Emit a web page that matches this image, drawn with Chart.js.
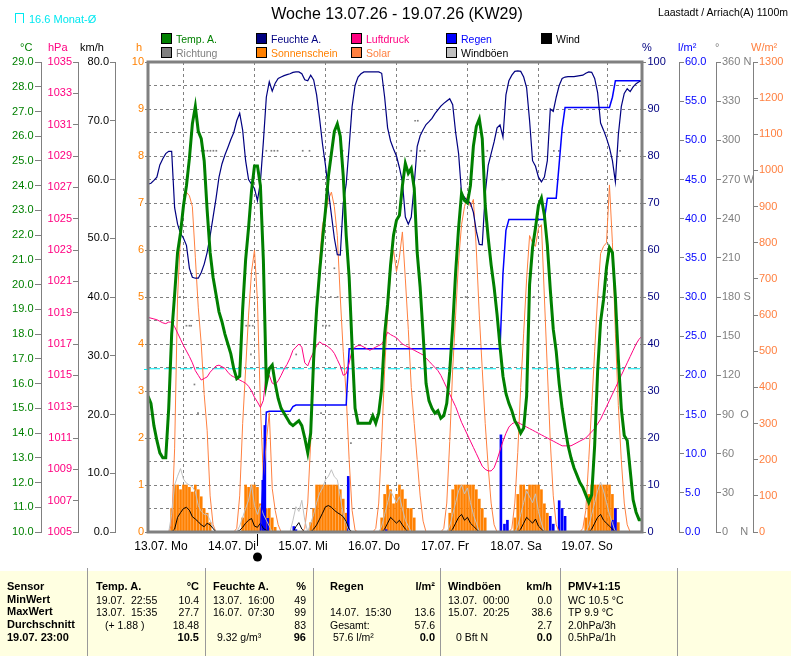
<!DOCTYPE html>
<html><head><meta charset="utf-8">
<script src="https://cdn.jsdelivr.net/npm/chart.js@4.4.1/dist/chart.umd.min.js"></script>
<style>
body{margin:0;width:791px;height:656px;overflow:hidden;background:#fff;font-family:"Liberation Sans",Arial,sans-serif;}
#wrap{position:relative;width:791px;height:656px;}
canvas{position:absolute;left:0;top:0;}
.t{position:absolute;white-space:nowrap;line-height:1;}
.r{transform:translateX(-100%);}
.box{position:absolute;width:9px;height:9px;border:1px solid #000;}
.tb{position:absolute;left:0;top:571px;width:791px;height:85px;background:#FFFFE1;}
.sep{position:absolute;top:568px;width:1px;height:88px;background:#999;}
.s{font-size:10.5px;}
.b{font-size:11px;font-weight:bold;}
</style></head><body>
<div id="wrap">
<div class="tb"></div>
<canvas id="c" width="791" height="656"></canvas>

<div style="position:absolute;left:15px;top:13px;width:7px;height:9px;border:1px solid #00E8F0;border-bottom:none;"></div>
<div class="t" style="left:29px;top:13.5px;font-size:11px;color:#00E8F0;">16.6 Monat-Ø</div>
<div class="t" style="left:397px;top:6px;font-size:16px;transform:translateX(-50%);">Woche 13.07.26 - 19.07.26 (KW29)</div>
<div class="t" style="right:3px;top:7px;font-size:10.5px;">Laastadt / Arriach(A) 1100m</div>

<div class="box" style="left:161px;top:33px;background:#008000"></div><div class="t" style="left:176px;top:33.5px;font-size:10.5px;color:#008000">Temp. A.</div>
<div class="box" style="left:256px;top:33px;background:#000080"></div><div class="t" style="left:271px;top:33.5px;font-size:10.5px;color:#000080">Feuchte A.</div>
<div class="box" style="left:351px;top:33px;background:#FF0080"></div><div class="t" style="left:366px;top:33.5px;font-size:10.5px;color:#FF0080">Luftdruck</div>
<div class="box" style="left:446px;top:33px;background:#0000FF"></div><div class="t" style="left:461px;top:33.5px;font-size:10.5px;color:#0000FF">Regen</div>
<div class="box" style="left:541px;top:33px;background:#000000"></div><div class="t" style="left:556px;top:33.5px;font-size:10.5px;color:#000">Wind</div>
<div class="box" style="left:161px;top:47px;background:#808080"></div><div class="t" style="left:176px;top:47.5px;font-size:10.5px;color:#808080">Richtung</div>
<div class="box" style="left:256px;top:47px;background:#FF8000"></div><div class="t" style="left:271px;top:47.5px;font-size:10.5px;color:#FF8000">Sonnenschein</div>
<div class="box" style="left:351px;top:47px;background:#FF8040"></div><div class="t" style="left:366px;top:47.5px;font-size:10.5px;color:#FF8040">Solar</div>
<div class="box" style="left:446px;top:47px;background:#C0C0C0"></div><div class="t" style="left:461px;top:47.5px;font-size:10.5px;color:#000">Windböen</div>

<div class="t" style="left:20px;top:41.5px;font-size:11px;color:#008000">°C</div>
<div class="t" style="left:48px;top:41.5px;font-size:11px;color:#FF0080">hPa</div>
<div class="t" style="left:80px;top:41.5px;font-size:11px;color:#000">km/h</div>
<div class="t" style="left:136px;top:41.5px;font-size:11px;color:#FF8000">h</div>
<div class="t" style="left:642px;top:41.5px;font-size:11px;color:#000080">%</div>
<div class="t" style="left:678px;top:41.5px;font-size:11px;color:#0000FF">l/m²</div>
<div class="t" style="left:715px;top:41.5px;font-size:11px;color:#808080">°</div>
<div class="t" style="left:751px;top:41.5px;font-size:11px;color:#FF8040">W/m²</div>

<div class="sep" style="left:87px"></div><div class="sep" style="left:205px"></div><div class="sep" style="left:313px"></div>
<div class="sep" style="left:440px"></div><div class="sep" style="left:560px"></div><div class="sep" style="left:677px"></div>

<div class="t b" style="left:7px;top:580.7px">Sensor</div>
<div class="t b" style="left:7px;top:594px">MinWert</div>
<div class="t b" style="left:7px;top:606.4px">MaxWert</div>
<div class="t b" style="left:7px;top:619px">Durchschnitt</div>
<div class="t b" style="left:7px;top:631.7px">19.07. 23:00</div>

<div class="t b" style="left:96px;top:580.7px">Temp. A.</div>
<div class="t b r" style="left:199px;top:580.7px">°C</div>
<div class="t s" style="left:96px;top:594.5px">19.07.&nbsp; 22:55</div><div class="t s r" style="left:199px;top:594.5px">10.4</div>
<div class="t s" style="left:96px;top:607px">13.07.&nbsp; 15:35</div><div class="t s r" style="left:199px;top:607px">27.7</div>
<div class="t s" style="left:105px;top:619.5px">(+ 1.88 )</div><div class="t s r" style="left:199px;top:619.5px">18.48</div>
<div class="t b r" style="left:199px;top:631.7px">10.5</div>

<div class="t b" style="left:213px;top:580.7px">Feuchte A.</div>
<div class="t b r" style="left:306px;top:580.7px">%</div>
<div class="t s" style="left:213px;top:594.5px">13.07.&nbsp; 16:00</div><div class="t s r" style="left:306px;top:594.5px">49</div>
<div class="t s" style="left:213px;top:607px">16.07.&nbsp; 07:30</div><div class="t s r" style="left:306px;top:607px">99</div>
<div class="t s r" style="left:306px;top:619.5px">83</div>
<div class="t s" style="left:217px;top:632px">9.32 g/m³</div><div class="t b r" style="left:306px;top:631.7px">96</div>

<div class="t b" style="left:330px;top:580.7px">Regen</div>
<div class="t b r" style="left:435px;top:580.7px">l/m²</div>
<div class="t s" style="left:330px;top:607px">14.07.&nbsp; 15:30</div><div class="t s r" style="left:435px;top:607px">13.6</div>
<div class="t s" style="left:330px;top:619.5px">Gesamt:</div><div class="t s r" style="left:435px;top:619.5px">57.6</div>
<div class="t s" style="left:333px;top:632px">57.6 l/m²</div><div class="t b r" style="left:435px;top:631.7px">0.0</div>

<div class="t b" style="left:448px;top:580.7px">Windböen</div>
<div class="t b r" style="left:552px;top:580.7px">km/h</div>
<div class="t s" style="left:448px;top:594.5px">13.07.&nbsp; 00:00</div><div class="t s r" style="left:552px;top:594.5px">0.0</div>
<div class="t s" style="left:448px;top:607px">15.07.&nbsp; 20:25</div><div class="t s r" style="left:552px;top:607px">38.6</div>
<div class="t s r" style="left:552px;top:619.5px">2.7</div>
<div class="t s" style="left:456px;top:632px">0 Bft N</div><div class="t b r" style="left:552px;top:631.7px">0.0</div>

<div class="t b" style="left:568px;top:580.7px">PMV+1:15</div>
<div class="t s" style="left:568px;top:594.5px">WC 10.5 °C</div>
<div class="t s" style="left:568px;top:607px">TP 9.9 °C</div>
<div class="t s" style="left:568px;top:619.5px">2.0hPa/3h</div>
<div class="t s" style="left:568px;top:632px">0.5hPa/1h</div>
</div>
<script>
// ---------------- data (hourly, 13.07. 00:00 .. 19.07. 23:00) ----------------
const dayLabels = ['13.07. Mo','14.07. Di','15.07. Mi','16.07. Do','17.07. Fr','18.07. Sa','19.07. So'];
const monthAvg = 16.6;
const moonHour = 37;

const temp = [
 15.5,15.2,14.3,13.7,13.2,13.0,13.0,15.0,18.0,19.6,21.3,22.1,23.2,24.0,25.1,26.5,27.2,26.2,25.9,25.0,23.0,21.3,20.3,19.6,
 18.9,18.5,18.0,17.6,17.2,16.6,16.2,16.3,19.0,21.0,22.3,23.8,24.8,24.8,24.0,21.0,16.0,16.6,16.75,16.0,15.4,15.0,14.8,14.6,
 14.4,14.3,14.4,14.5,14.3,13.8,13.2,14.0,17.0,19.0,20.5,21.8,23.0,24.4,25.3,26.2,26.5,26.0,24.4,22.0,20.3,17.5,15.0,14.4,
 14.4,14.4,14.4,14.4,14.7,14.4,14.8,15.8,18.0,19.2,20.8,22.0,22.6,22.8,24.0,24.9,24.5,24.7,23.9,21.3,19.9,18.0,16.0,15.3,
 15.0,14.8,14.9,14.6,14.7,15.2,16.5,18.3,20.5,22.3,23.7,23.4,23.3,24.0,25.6,26.4,26.7,25.9,23.2,21.9,20.8,19.9,18.8,17.5,
 16.3,15.6,15.2,14.9,14.5,14.3,14.0,14.2,15.5,20.0,21.5,22.3,23.2,23.5,22.8,21.6,19.8,18.2,17.3,16.0,15.0,14.2,13.5,13.0,
 12.6,12.3,12.0,11.8,11.5,11.2,11.5,13.5,16.5,18.5,19.4,20.7,21.5,21.3,19.5,17.0,15.0,13.9,13.7,12.5,11.3,10.8,10.5,10.5];

const humidity = [
 74.0,74.2,74.8,75.5,78.1,79.4,80.5,81.0,81.0,69.0,65.5,63.5,62.5,61.0,56.1,54.2,54.0,54.0,55.2,57.0,59.5,63.0,67.0,71.0,
 75.5,78.3,80.2,81.8,83.5,85.0,87.5,89.1,85.5,79.0,75.0,74.0,73.1,70.5,74.5,83.0,92.5,95.8,93.8,95.5,96.5,96.8,97.1,97.3,
 97.5,97.8,97.9,97.9,97.5,96.2,96.0,97.2,96.2,93.0,88.0,82.5,78.0,72.5,67.5,62.5,59.0,58.9,70.0,74.0,82.0,90.5,95.0,96.8,
 97.5,97.9,97.9,97.9,97.9,97.9,97.9,97.6,92.5,86.0,83.2,81.5,80.0,77.5,74.5,67.0,65.5,67.0,74.0,82.0,84.3,85.6,86.7,87.3,
 88.0,89.0,89.8,90.6,91.2,91.7,92.2,90.9,85.0,80.5,72.0,71.2,70.5,70.0,68.0,64.0,61.2,61.1,72.0,78.0,80.5,83.0,86.0,86.6,
 84.0,93.0,96.0,97.2,98.0,98.1,98.0,96.8,94.5,87.5,79.0,77.8,75.5,74.5,75.5,79.0,90.0,89.5,92.5,95.0,96.5,96.8,96.9,96.9,
 96.9,97.0,97.1,97.2,97.6,97.9,97.8,96.5,93.5,87.0,85.5,83.8,81.8,79.0,74.5,84.5,90.5,93.3,94.3,93.7,94.7,95.4,95.8,96.0];

const pressure = [
 1018.7,1018.65,1018.6,1018.55,1018.45,1018.35,1018.3,1018.4,1018.4,1018.1,1017.7,1017.3,1016.9,1016.55,1016.2,1015.8,1015.3,1015.0,1014.7,1014.8,1014.9,1015.2,1015.4,1015.6,
 1015.65,1015.55,1015.45,1015.2,1015.0,1014.9,1014.8,1014.7,1014.6,1014.5,1014.3,1014.0,1013.6,1013.3,1012.95,1013.4,1015.2,1015.0,1014.5,1014.4,1014.65,1015.0,1015.4,1015.7,
 1016.1,1016.6,1016.8,1017.0,1016.8,1015.8,1015.6,1016.1,1016.5,1016.9,1017.14,1017.0,1016.95,1016.8,1016.65,1016.4,1016.0,1015.6,1015.0,1015.1,1015.8,1016.6,1016.8,1016.9,
 1016.9,1016.8,1016.7,1016.6,1016.7,1016.8,1016.9,1017.0,1017.3,1017.75,1017.6,1017.5,1017.4,1017.2,1017.0,1016.9,1016.8,1016.7,1016.6,1016.5,1016.4,1016.3,1016.1,1015.9,
 1015.7,1015.5,1015.3,1015.0,1014.6,1014.2,1013.8,1013.4,1013.0,1012.5,1012.0,1011.6,1011.2,1010.8,1010.4,1010.0,1009.6,1009.2,1009.0,1008.9,1008.9,1009.1,1009.6,1010.2,
 1010.8,1011.3,1011.7,1011.9,1012.0,1012.0,1011.9,1011.8,1011.7,1011.6,1011.5,1011.4,1011.3,1011.2,1011.1,1011.0,1010.9,1010.8,1010.7,1010.6,1010.5,1010.5,1010.5,1010.5,
 1010.6,1010.7,1010.8,1010.9,1011.0,1011.2,1011.4,1011.6,1011.9,1012.2,1012.6,1013.0,1013.4,1013.8,1014.2,1014.6,1015.0,1015.4,1015.8,1016.2,1016.6,1017.0,1017.3,1017.5];

const solar = [
 0,0,0,0,0,0,0,0,20,230,650,820,900,940,930,900,760,620,520,380,280,100,20,0,
 0,0,0,0,0,0,10,100,300,450,600,720,780,640,350,150,250,330,120,60,20,0,0,0,
 0,0,0,0,0,10,80,250,450,600,750,850,880,920,940,900,820,650,500,380,200,60,5,0,
 0,0,0,0,0,10,80,250,450,600,720,780,720,760,830,700,560,400,300,200,100,30,0,0,
 0,0,0,0,10,80,250,450,600,750,850,900,930,900,920,780,600,450,300,180,80,20,0,0,
 0,0,0,10,80,220,400,550,700,820,800,790,840,850,650,450,250,100,20,0,0,0,0,0,
 0,0,0,10,60,200,350,500,650,770,790,800,960,800,550,350,200,80,20,0,0,0,0,0];

const sunshine = [
 0,0,0,0,0,0,0,0,0.5,1,1,0.9,1,1,0.95,0.85,1,0.9,0.75,0.5,0.4,0.2,0,0,
 0,0,0,0,0,0,0,0,0.3,1,0.95,1,1,0.95,0.6,0.7,0.5,0.5,0.3,0.1,0,0,0,0,
 0,0,0,0,0,0,0,0.2,0.5,1,1,1,1,1,1,1,1,0.9,0.7,0.4,0,0,0,0,
 0,0,0,0,0,0,0,0.3,0.8,1,0.9,0.6,0.8,1,0.9,0.7,0.5,0.5,0.3,0,0,0,0,0,
 0,0,0,0,0,0,0.4,0.9,1,1,1,1,1,1,1,0.9,0.7,0.5,0.3,0,0,0,0,0,
 0,0,0,0,0.3,0.8,1,1,0.9,1,1,1,1,0.9,0.6,0.4,0,0,0,0,0,0,0,0,
 0,0,0,0,0.3,0.8,1,1,1,1,1,1,1,0.8,0.5,0.2,0,0,0,0,0,0,0,0];

const wind = [
 0,0,0,0,0,0,0,0,0,0.5,2.5,3.3,4.0,4.2,3.7,2.6,2.2,1.75,1.2,0.9,1.5,1.2,0.6,0,
 0,0,0,0,0,0,0,0.3,0.8,1.5,2.0,2.3,1.0,0.8,1.5,0.6,0.3,0,0,0,0,0,0,0,
 0,0,0.9,1.6,0.5,0,0,0,0.5,1.2,2.2,3.2,4.3,4.5,4.2,3.7,3.3,3.0,2.6,1.8,0.5,0,0,0,
 0,0,0,0,0,0,0,0,0.5,1.5,2.5,2.0,1.5,2.0,1.2,0.5,0,0,0,0,0,0,0,0,
 0,0,0,0,0,0,0,0.5,1.5,2.5,3.0,2.0,2.5,1.5,1.0,0.5,0,0,0,0,0,0,0,0,
 0,0,0,0,0,0,0.5,1.5,2.5,2.0,1.5,2.2,1.0,0.5,0,0,0,0,0,0,0,0,0,0,
 0,0,0,0,0,0,0.5,1.5,2.5,3.0,2.0,1.5,1.0,0.5,0,0,0,0,0,0,0,0,0,0];

const gusts = [
 0,0,0,0,0,0,0,0,3.0,8.0,9.5,10.8,9.0,8.3,8.0,7.7,6.9,4.5,3.5,3.0,3.0,2.0,0.8,0,
 0,0,0,0,0,0,0,1.0,2.5,4.0,5.4,8.0,4.5,3.0,4.5,3.0,2.0,1.0,0,0,0,0,0,0,
 0,2.0,4.3,3.5,5.4,2.0,0,1.5,3.0,5.0,6.6,7.5,8.9,9.5,10.6,9.4,8.9,6.0,3.0,1.5,0,0,0,0,
 0,0,0,0,0,0,0,1.0,3.0,5.0,7.0,6.0,5.0,6.0,4.0,2.0,1.0,0,0,0,0,0,0,0,
 0,0,0,0,0,0,1.0,3.0,5.0,7.0,8.0,6.5,7.5,5.0,3.0,1.5,0,0,0,0,0,0,0,0,
 0,0,0,0,0,1.0,3.0,5.0,7.0,6.0,5.0,6.5,3.5,1.5,0,0,0,0,0,0,0,0,0,0,
 0,0,0,0,0,1.0,3.0,5.0,7.0,8.5,7.0,5.0,3.0,1.5,0,0,0,0,0,0,0,0,0,0];

const rainTotal = [
 0,0,0,0,0,0,0,0,0,0,0,0,0,0,0,0,0,0,0,0,0,0,0,0,
 0,0,0,0,0,0,0,0,0,0,0,0,0,0,0,7.0,15.3,15.4,15.4,15.4,15.4,15.4,15.4,15.4,
 15.4,16.0,16.2,16.2,16.2,16.2,16.2,16.2,16.2,16.2,16.2,16.2,16.2,16.2,16.2,16.2,16.2,16.2,16.2,16.2,23.4,23.4,23.4,23.4,
 23.4,23.4,23.4,23.4,23.4,23.4,23.4,23.4,23.4,23.4,23.4,23.4,23.4,23.4,23.4,23.4,23.4,23.4,23.4,23.4,23.4,23.4,23.4,23.4,
 23.4,23.4,23.4,23.4,23.4,23.4,23.4,23.4,23.4,23.4,23.4,23.4,23.4,23.4,23.4,23.4,23.4,23.4,23.4,23.4,23.4,23.4,23.4,23.4,
 33.0,38.5,39.9,39.9,39.9,39.9,39.9,39.9,39.9,39.9,39.9,39.9,39.9,39.9,39.9,42.6,42.6,42.6,42.6,47.0,51.5,54.2,54.2,54.2,
 54.2,54.2,54.2,54.2,54.2,54.2,54.2,54.2,54.2,54.2,54.2,54.2,54.2,55.5,57.6,57.6,57.6,57.6,57.6,57.6,57.6,57.6,57.6,57.6];

const rainHours = [38.8,39.5,40.5,49.3,50.0,67.7,80.5,119.3,120.5,121.5,136,137,139,140,141,157,158];
const rainVals  = [6.6,13.6,1.75,0.7,0.3,7.1,0.3,12.4,1.0,1.5,2.0,1.0,4.0,3.0,2.0,1.5,3.0];

const dirHours = [10.8,13.0,14.0,14.6,15.7,16.9,18.1,19.1,20.1,21.1,22.1,23.1,33.2,34.3,35.4,34.8,40.0,41.7,42.7,43.8,50.1,51.2,52.3,54.6,56.3,58.5,61.8,64.1,58.5,59.1,60.2,61.3,63.0,65.8,68.6,89.0,92.0,93.5,90.3,91.2,107.4,114.7,119.8,130.4,137.2,138.9,152.4,153.5,155.1,156.4,159.6];
const dirDeg   = [180,158,158,158,113,91,292,292,292,292,292,292,158,158,158,136,292,292,292,292,136,270,292,292,180,180,180,180,91,158,158,158,202,292,68,292,292,292,315,315,180,292,270,180,292,292,180,180,180,180,292];

// ---------------- chart ----------------
const FONT = '"Liberation Sans", Arial, sans-serif';
Chart.defaults.font.family = FONT;
const GRAY = '#808080';
const pts = arr => arr.map((v, i) => ({x: i, y: v}));
const pairs = (xs, ys) => xs.map((x, i) => ({x, y: ys[i]}));
const nz = arr => pts(arr).filter(p => p.y > 0);

function yAxis(pos, weight, width, min, max, step, color, fmt, tickLen, pad) {
  return {
    type: 'linear', position: pos, weight, min, max,
    ticks: {stepSize: step, color, font: {size: 11}, padding: pad, callback: fmt, autoSkip: false},
    grid: {drawOnChartArea: false, tickLength: tickLen, color: GRAY},
    border: {display: true, color: GRAY, width: 1},
    afterFit(s) { s.width = width; }
  };
}
const dirNames = {0: '0    N', 90: '90  O', 180: '180 S', 270: '270 W', 360: '360 N'};

const line = (label, data, axis, color, width) => ({
  type: 'line', label, data, yAxisID: axis, borderColor: color, backgroundColor: color,
  borderWidth: width, pointRadius: 0, tension: 0, fill: false
});

const framePlugin = {
  id: 'frame',
  afterDatasetsDraw(chart) {
    const {ctx, chartArea: a} = chart;
    ctx.save();
    ctx.strokeStyle = GRAY; ctx.lineWidth = 3;
    ctx.strokeRect(a.left, a.top, a.right - a.left, a.bottom - a.top);
    // cyan marker of the monthly mean on the left edge
    const ym = Math.round(chart.scales.yT.getPixelForValue(monthAvg)) + 0.5;
    ctx.strokeStyle = '#00E8F0'; ctx.lineWidth = 1;
    ctx.beginPath(); ctx.moveTo(a.left - 4, ym); ctx.lineTo(a.left - 1, ym); ctx.stroke();
    // moon phase marker
    const x = Math.round(chart.scales.x.getPixelForValue(moonHour)) + 0.5;
    ctx.strokeStyle = '#000';
    ctx.beginPath(); ctx.moveTo(x, a.bottom + 2); ctx.lineTo(x, a.bottom + 14); ctx.stroke();
    ctx.fillStyle = '#000';
    ctx.beginPath(); ctx.arc(x, a.bottom + 25, 4.5, 0, Math.PI * 2); ctx.fill();
    ctx.restore();
  }
};

new Chart(document.getElementById('c'), {
  type: 'line',
  data: {
    datasets: [
      line('Temp. A.', pts(temp), 'yT', '#008000', 3),
      line('Feuchte A.', pts(humidity), 'yF', '#000080', 1.2),
      line('Luftdruck', pts(pressure), 'yP', '#FF0080', 1),
      line('Regen gesamt', pts(rainTotal), 'yR', '#0000FF', 1.5),
      line('Wind', pts(wind), 'yW', '#000000', 1),
      line('Windböen', pts(gusts), 'yW', '#C0C0C0', 1),
      {type: 'scatter', label: 'Richtung', data: pairs(dirHours, dirDeg), yAxisID: 'yD',
       pointStyle: 'rect', pointRadius: 1.2, backgroundColor: GRAY, borderColor: GRAY, borderWidth: 0, showLine: false},
      line('Solar', pts(solar), 'yS', '#FF8040', 1),
      {...line('Monat-Ø', [{x: 0, y: monthAvg}, {x: 167, y: monthAvg}], 'yT', '#00E8F0', 1), borderDash: [12, 4]},
      {type: 'bar', label: 'Regen', data: pairs(rainHours, rainVals), yAxisID: 'yR',
       backgroundColor: '#0000FF', barThickness: 2, grouped: false},
      {type: 'bar', label: 'Sonnenschein', data: nz(sunshine), yAxisID: 'yH',
       backgroundColor: '#FF8000', barThickness: 2, grouped: false}
    ]
  },
  options: {
    responsive: false, animation: false, events: [],
    layout: {padding: {left: 0, right: 0, top: 62, bottom: 84}},
    plugins: {legend: {display: false}, tooltip: {enabled: false}},
    scales: {
      x: {
        type: 'linear', position: 'bottom', min: 0, max: 167, offset: false,
        ticks: {stepSize: 24, autoSkip: false, maxRotation: 0, color: '#000', font: {size: 12},
                padding: 7, labelOffset: 13,
                callback: v => (v % 24 === 0 && dayLabels[v / 24]) ? dayLabels[v / 24] : ''},
        grid: {drawOnChartArea: true, drawTicks: false, color: GRAY},
        border: {display: false, dash: [3, 3]},
        afterFit(s) { s.height = 40; }
      },
      yT: yAxis('left', 4, 41, 10, 29, 1, '#008000', v => v.toFixed(1), 6, 1.5),
      yP: yAxis('left', 3, 37, 1005, 1035, 2, '#FF0080', v => String(v), 5, 1),
      yW: yAxis('left', 2, 37, 0, 80, 10, '#000000', v => v.toFixed(1), 5, 1),
      yH: {
        type: 'linear', position: 'left', weight: 1, min: 0, max: 10,
        ticks: {stepSize: 0.5, color: '#FF8000', font: {size: 11}, padding: 1, autoSkip: false,
                callback: v => Number.isInteger(v) ? String(v) : ''},
        grid: {drawOnChartArea: true, tickLength: 3, color: GRAY,
               tickColor: c => Number.isInteger(c.tick && c.tick.value) ? GRAY : 'rgba(0,0,0,0)'},
        border: {display: false, dash: [3, 3]},
        afterFit(s) { s.width = 33; }
      },
      yF: yAxis('right', 1, 37, 0, 100, 10, '#000080', v => String(v), 4, 1.5),
      yR: yAxis('right', 2, 37, 0, 60, 5, '#0000FF', v => v.toFixed(1), 5, 1),
      yD: yAxis('right', 3, 37, 0, 360, 30, GRAY, v => dirNames[v] !== undefined ? dirNames[v] : String(v), 5, 1),
      yS: yAxis('right', 4, 38, 0, 1300, 100, '#FF8040', v => String(v), 5, 1)
    }
  },
  plugins: [framePlugin]
});
</script>
</body></html>
